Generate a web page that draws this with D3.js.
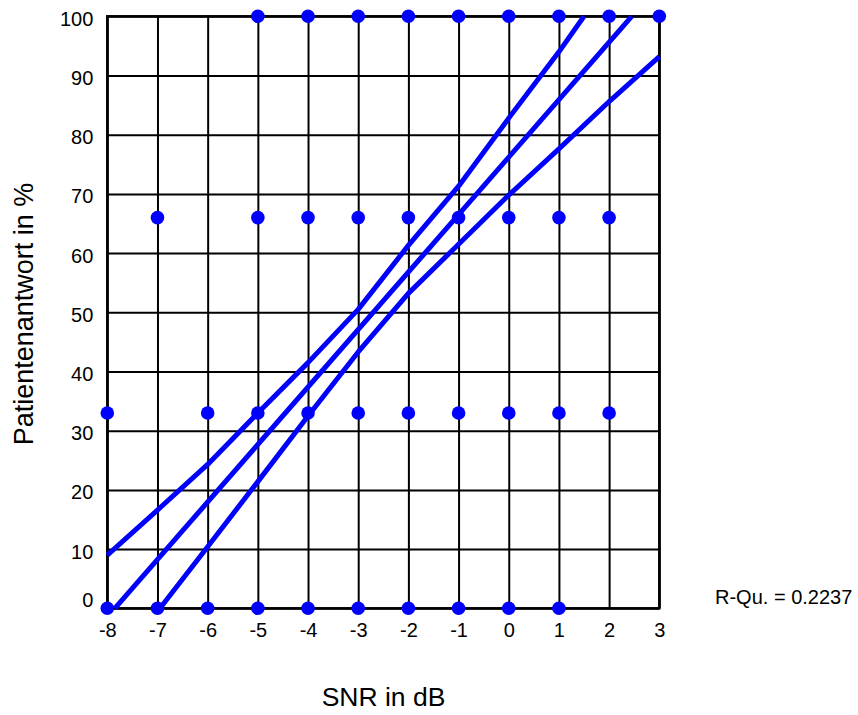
<!DOCTYPE html>
<html>
<head>
<meta charset="utf-8">
<script src="https://cdn.jsdelivr.net/npm/d3@7"></script>
<style>
  body { margin: 0; background: #fff; }
  svg { font-family: 'Liberation Sans', Arial, sans-serif; }
  .axis .domain { display: none; }
  .axis line { stroke: #000; stroke-width: 2; }
  .axis text { fill: #000; font-size: 20px; }
</style>
</head>
<body>
<div class="chart"></div>
<script>
// tick labels
const snrTicks = [-8, -7, -6, -5, -4, -3, -2, -1, 0, 1, 2, 3];
const pctTicks = [0, 10, 20, 30, 40, 50, 60, 70, 80, 90, 100];

// patient answers (SNR in dB) per response level
const resp100 = [-5, -4, -3, -2, -1, 0, 1, 2, 3];
const resp66 = [-7, -5, -4, -3, -2, -1, 0, 1, 2];
const resp33 = [-8, -6, -5, -4, -3, -2, -1, 0, 1, 2];
const resp0 = [-8, -7, -6, -5, -4, -3, -2, -1, 0, 1];

// regression line and confidence band
const fitLine = [[-7.85, 0], [2.45, 100]];
const upperBand = [[-8, 9], [-7, 16.6], [-6, 24.3], [-5, 33], [-4, 41.5], [-3, 50.5],
  [-2, 61.3], [-1, 71.3], [0, 82.8], [1, 94], [1.5, 100]];
const lowerBand = [[-6.95, 0], [-6, 10.4], [-5, 21.4], [-4, 32.5], [-3, 43.3], [-2, 53.2],
  [-1, 61.5], [0, 69.8], [1, 77.6], [2, 85.6], [3, 93.2]];

const rSquared = 'R-Qu. = 0.2237';

const width = 858,
  height = 715,
  margin = { top: 16.3, right: 198.7, bottom: 106.7, left: 107.3 };
const innerW = width - margin.left - margin.right,
  innerH = height - margin.top - margin.bottom;

const svg = d3.select('.chart').append('svg')
  .attr('width', width)
  .attr('height', height);

svg.append('rect').attr('width', width).attr('height', height).attr('fill', '#fff');

const g = svg.append('g').attr('transform', `translate(${margin.left},${margin.top})`);

const x = d3.scaleLinear().domain([-8, 3]).range([0, innerW]);
const y = d3.scaleLinear().domain([0, 100]).range([innerH, 0]);

// grid via axes
g.append('g')
  .attr('class', 'axis x')
  .attr('transform', `translate(0,${innerH})`)
  .call(d3.axisBottom(x).tickValues(snrTicks).tickSize(-innerH).tickPadding(15).tickFormat(d => String(d)));

g.append('g')
  .attr('class', 'axis y')
  .call(d3.axisLeft(y).tickValues(pctTicks).tickSize(-innerW).tickPadding(14));

g.selectAll('.axis.y .tick text')
  .attr('dy', d => (d === 0 ? '-0.1em' : '0.45em'));

// frame
g.append('rect')
  .attr('width', innerW)
  .attr('height', innerH)
  .attr('fill', 'none')
  .attr('stroke', '#000')
  .attr('stroke-width', 2.5);

// points
const points = [
  ...resp100.map(d => [d, 100]),
  ...resp66.map(d => [d, 66]),
  ...resp33.map(d => [d, 33]),
  ...resp0.map(d => [d, 0])
];

g.selectAll('.dot')
  .data(points)
  .enter()
  .append('circle')
  .attr('class', 'dot')
  .attr('cx', d => x(d[0]))
  .attr('cy', d => y(d[1]))
  .attr('r', 6.8)
  .attr('fill', '#0000ff');

// lines
const line = d3.line().x(d => x(d[0])).y(d => y(d[1]));

g.selectAll('.fit')
  .data([upperBand, fitLine, lowerBand])
  .enter()
  .append('path')
  .attr('class', 'fit')
  .attr('d', line)
  .attr('fill', 'none')
  .attr('stroke', '#0000ff')
  .attr('stroke-width', 5)
  .attr('stroke-linejoin', 'round');

// titles
svg.append('text')
  .attr('x', 383.5)
  .attr('y', 706)
  .attr('text-anchor', 'middle')
  .style('font-size', '26.5px')
  .text('SNR in dB');

svg.append('text')
  .attr('transform', 'translate(33,314) rotate(-90)')
  .attr('text-anchor', 'middle')
  .style('font-size', '27px')
  .text('Patientenantwort in %');

svg.append('text')
  .attr('x', 715)
  .attr('y', 604)
  .style('font-size', '20px')
  .text(rSquared);
</script>
</body>
</html>
